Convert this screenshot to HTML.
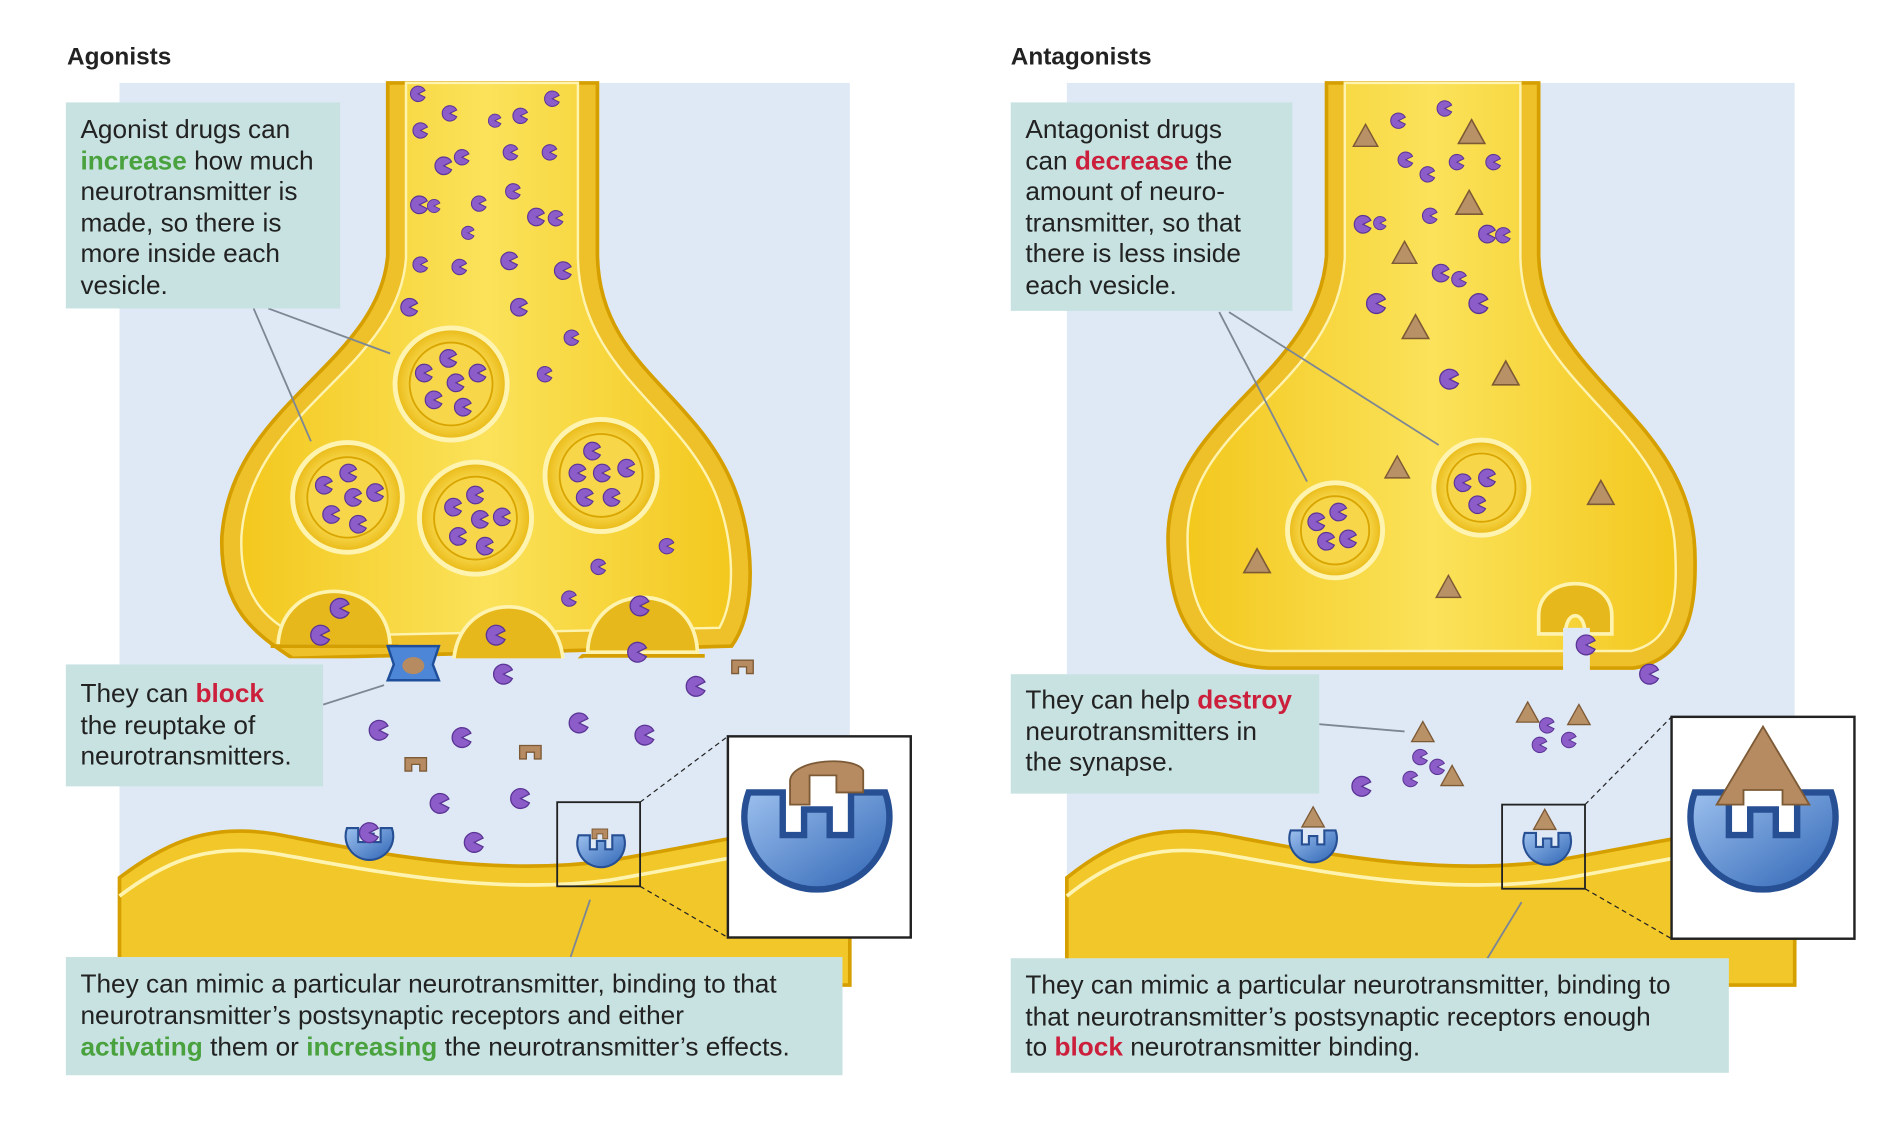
<!DOCTYPE html>
<html><head><meta charset="utf-8"><style>
html,body{margin:0;padding:0;background:#fff}
svg{display:block}
text{font-family:"Liberation Sans",Arial,sans-serif}
</style></head><body>
<svg width="1902" height="1135" viewBox="0 0 1560 931" preserveAspectRatio="none" xmlns="http://www.w3.org/2000/svg">
<defs>
<linearGradient id="y" x1="0" y1="0" x2="1" y2="0"><stop offset="0" stop-color="#f3c81e"/><stop offset="0.5" stop-color="#fbe25a"/><stop offset="1" stop-color="#f3c81e"/></linearGradient>
<radialGradient id="ves" cx="0.5" cy="0.5" r="0.5"><stop offset="0.7" stop-color="#f7d64a"/><stop offset="1" stop-color="#e9b915"/></radialGradient>
<linearGradient id="bl" x1="0" y1="0" x2="1" y2="1"><stop offset="0" stop-color="#9cc0ee"/><stop offset="1" stop-color="#2f65b5"/></linearGradient>
<symbol id="nt" viewBox="-10 -10 20 20"><path d="M0,0 L8,-4 A9,9 0 1 0 8,4 Z" fill="#8c5cc8" stroke="#5b3596" stroke-width="1.2"/></symbol>
<symbol id="tri" viewBox="-12 -12 24 24"><path d="M0,-10 L10,8 L-10,8 Z" fill="#b89166" stroke="#7d5a36" stroke-width="1.2"/></symbol>
<symbol id="ag" viewBox="-10 -10 20 20"><path d="M-8,-5 L8,-5 L8,5 L3,5 L3,0 L-3,0 L-3,5 L-8,5Z" fill="#b68b62" stroke="#7d5a36" stroke-width="1"/></symbol>
<symbol id="rec" viewBox="-20 -20 40 40"><path d="M-16,-12 A17,17 0 1 0 16,-12 L8,-12 L8,-2 L3,-2 L3,-8 L-3,-8 L-3,-2 L-8,-2 L-8,-12 Z" fill="url(#bl)" stroke="#264f94" stroke-width="1.5"/></symbol>
</defs>

<!-- ================= LEFT ================= -->
<text x="55" y="53" font-size="20" font-weight="bold" fill="#222">Agonists</text>
<rect x="98" y="68" width="599" height="740" fill="#dfe9f5"/>
<path d="M318,68 L318,210 C310,300 190,330 182,440 C180,500 210,520 240,540 L600,530 C622,500 618,440 602,400 C570,320 492,300 490,210 L490,68 Z" fill="#eec02a" stroke="#d69f00" stroke-width="3"/>
<path d="M333,68 L333,212 C326,305 205,335 198,440 C196,490 220,510 245,522 L590,515 C604,490 602,445 588,408 C560,335 476,305 474,212 L474,68 Z" fill="url(#y)" stroke="#fff3b0" stroke-width="2"/>
<g fill="#e7b81c" stroke="#fff3b0" stroke-width="3">
<path d="M228,530 C230,470 318,470 320,530 Z"/>
<path d="M372,545 C374,482 460,482 462,545 Z"/>
<path d="M482,535 C484,475 570,475 572,535 Z"/>
</g>
<path d="M222,530 L326,530 L366,548 L468,548 L478,538 L578,538" fill="none" stroke="#d69f00" stroke-width="3"/>
<rect x="210" y="540" width="400" height="14" fill="#dfe9f5"/>
<g fill="url(#ves)" stroke="#fff3b0" stroke-width="4">
<circle cx="370" cy="315" r="46"/><circle cx="285" cy="408" r="45"/><circle cx="390" cy="425" r="46"/><circle cx="493" cy="390" r="46"/>
</g>
<g fill="none" stroke="#d9a500" stroke-width="1.5">
<circle cx="370" cy="315" r="34"/><circle cx="285" cy="408" r="33"/><circle cx="390" cy="425" r="34"/><circle cx="493" cy="390" r="34"/>
</g>
<path d="M318,530 L360,530 L355,545 L360,558 L318,558 L323,545 Z" fill="#4d86d6" stroke="#1f4f9a" stroke-width="2"/>
<ellipse cx="339" cy="546" rx="9" ry="7" fill="#b68b62"/>
<path d="M98,720 C140,688 175,676 225,684 C300,698 400,720 500,706 C580,692 640,678 697,674 L697,808 L98,808 Z" fill="#f1c72a" stroke="#d69f00" stroke-width="3"/>
<path d="M98,735 C140,703 175,692 225,700 C300,713 400,735 500,722 C580,708 640,694 697,690" fill="none" stroke="#fff3b0" stroke-width="3"/>
<g>
<use href="#nt" x="336" y="70" width="14" height="14"/>
<use href="#nt" x="362" y="86" width="14" height="14"/>
<use href="#nt" x="420" y="88" width="14" height="14"/>
<use href="#nt" x="446" y="74" width="14" height="14"/>
<use href="#nt" x="400" y="92" width="12" height="14"/>
<use href="#nt" x="338" y="100" width="14" height="14"/>
<use href="#nt" x="356" y="128" width="16" height="16"/><use href="#nt" x="372" y="122" width="14" height="14"/>
<use href="#nt" x="412" y="118" width="14" height="14"/><use href="#nt" x="444" y="118" width="14" height="14"/>
<use href="#nt" x="336" y="160" width="16" height="16"/><use href="#nt" x="350" y="162" width="12" height="14"/>
<use href="#nt" x="386" y="160" width="14" height="14"/><use href="#nt" x="414" y="150" width="14" height="14"/>
<use href="#nt" x="432" y="170" width="16" height="16"/><use href="#nt" x="449" y="172" width="14" height="14"/>
<use href="#nt" x="378" y="184" width="12" height="14"/>
<use href="#nt" x="338" y="210" width="14" height="14"/><use href="#nt" x="370" y="212" width="14" height="14"/>
<use href="#nt" x="410" y="206" width="16" height="16"/><use href="#nt" x="454" y="214" width="16" height="16"/>
<use href="#nt" x="328" y="244" width="16" height="16"/><use href="#nt" x="418" y="244" width="16" height="16"/>
<use href="#nt" x="462" y="270" width="14" height="14"/><use href="#nt" x="440" y="300" width="14" height="14"/>
<use href="#nt" x="540" y="440" width="14" height="16"/><use href="#nt" x="484" y="458" width="14" height="14"/>
<use href="#nt" x="460" y="484" width="14" height="14"/>
<use href="#nt" x="340" y="298" width="16" height="16"/><use href="#nt" x="360" y="286" width="16" height="16"/><use href="#nt" x="366" y="306" width="16" height="16"/><use href="#nt" x="384" y="298" width="16" height="16"/><use href="#nt" x="348" y="320" width="16" height="16"/><use href="#nt" x="372" y="326" width="16" height="16"/>
<use href="#nt" x="258" y="390" width="16" height="16"/><use href="#nt" x="278" y="380" width="16" height="16"/><use href="#nt" x="282" y="400" width="16" height="16"/><use href="#nt" x="300" y="396" width="16" height="16"/><use href="#nt" x="264" y="414" width="16" height="16"/><use href="#nt" x="286" y="422" width="16" height="16"/>
<use href="#nt" x="364" y="408" width="16" height="16"/><use href="#nt" x="382" y="398" width="16" height="16"/><use href="#nt" x="386" y="418" width="16" height="16"/><use href="#nt" x="404" y="416" width="16" height="16"/><use href="#nt" x="368" y="432" width="16" height="16"/><use href="#nt" x="390" y="440" width="16" height="16"/>
<use href="#nt" x="478" y="362" width="16" height="16"/><use href="#nt" x="466" y="380" width="16" height="16"/><use href="#nt" x="486" y="380" width="16" height="16"/><use href="#nt" x="506" y="376" width="16" height="16"/><use href="#nt" x="472" y="400" width="16" height="16"/><use href="#nt" x="494" y="400" width="16" height="16"/>
<use href="#nt" x="270" y="490" width="18" height="18"/><use href="#nt" x="254" y="512" width="18" height="18"/>
<use href="#nt" x="398" y="512" width="18" height="18"/><use href="#nt" x="404" y="544" width="18" height="18"/>
<use href="#nt" x="516" y="488" width="18" height="18"/><use href="#nt" x="514" y="526" width="18" height="18"/>
<use href="#nt" x="562" y="554" width="18" height="18"/>
<use href="#nt" x="302" y="590" width="18" height="18"/><use href="#nt" x="370" y="596" width="18" height="18"/>
<use href="#nt" x="466" y="584" width="18" height="18"/><use href="#nt" x="520" y="594" width="18" height="18"/>
<use href="#nt" x="352" y="650" width="18" height="18"/><use href="#nt" x="418" y="646" width="18" height="18"/>
<use href="#nt" x="380" y="682" width="18" height="18"/>
<use href="#ag" x="598" y="536" width="22" height="22"/><use href="#ag" x="330" y="616" width="22" height="22"/><use href="#ag" x="424" y="606" width="22" height="22"/>
</g>
<use href="#rec" x="280" y="670" width="46" height="46"/>
<use href="#nt" x="294" y="674" width="18" height="18"/>
<use href="#rec" x="470" y="676" width="46" height="46"/>
<use href="#ag" x="482" y="676" width="20" height="16"/>
<rect x="457" y="658" width="68" height="69" fill="none" stroke="#222" stroke-width="1.5"/>
<line x1="525" y1="658" x2="597" y2="604" stroke="#222" stroke-dasharray="4,3"/>
<line x1="525" y1="727" x2="597" y2="769" stroke="#222" stroke-dasharray="4,3"/>
<rect x="597" y="604" width="150" height="165" fill="#fff" stroke="#222" stroke-width="2"/>
<use href="#rec" x="600" y="622" width="140" height="140"/>
<path d="M648,640 C650,622 702,620 708,632 L708,650 L686,650 L686,636 L664,636 L664,660 L648,660 Z" fill="#b68b62" stroke="#7d5a36" stroke-width="1.5"/>
<g stroke="#7d8794" stroke-width="1.5">
<line x1="208" y1="253" x2="255" y2="362"/><line x1="220" y1="253" x2="320" y2="290"/>
<line x1="265" y1="578" x2="315" y2="562"/><line x1="468" y1="785" x2="484" y2="738"/>
</g>
<rect x="54" y="84" width="225" height="169" fill="#c8e2e2"/>
<g font-size="21.5" fill="#222">
<text x="66" y="113">Agonist drugs can</text>
<text x="66" y="139"><tspan fill="#4aa23f" font-weight="bold">increase</tspan> how much</text>
<text x="66" y="164">neurotransmitter is</text>
<text x="66" y="190">made, so there is</text>
<text x="66" y="215">more inside each</text>
<text x="66" y="241">vesicle.</text>
</g>
<rect x="54" y="545" width="211" height="100" fill="#c8e2e2"/>
<g font-size="21.5" fill="#222">
<text x="66" y="576">They can <tspan fill="#cc1f3c" font-weight="bold">block</tspan></text>
<text x="66" y="602">the reuptake of</text>
<text x="66" y="627">neurotransmitters.</text>
</g>
<rect x="54" y="785" width="637" height="97" fill="#c8e2e2"/>
<g font-size="21.5" fill="#222">
<text x="66" y="814">They can mimic a particular neurotransmitter, binding to that</text>
<text x="66" y="840">neurotransmitter’s postsynaptic receptors and either</text>
<text x="66" y="866"><tspan fill="#4aa23f" font-weight="bold">activating</tspan> them or <tspan fill="#4aa23f" font-weight="bold">increasing</tspan> the neurotransmitter’s effects.</text>
</g>

<!-- ================= RIGHT ================= -->
<text x="829" y="53" font-size="20" font-weight="bold" fill="#222">Antagonists</text>
<rect x="875" y="68" width="597" height="740" fill="#dfe9f5"/>
<path d="M1088,68 L1088,210 C1080,310 960,340 958,440 C958,520 990,545 1040,548 L1340,548 C1385,540 1392,500 1390,450 C1385,340 1265,310 1262,210 L1262,68 Z" fill="#eec02a" stroke="#d69f00" stroke-width="3"/>
<path d="M1103,68 L1103,212 C1096,318 975,345 974,440 C974,510 1000,532 1042,534 L1338,534 C1372,526 1376,495 1374,452 C1370,345 1250,318 1247,212 L1247,68 Z" fill="url(#y)" stroke="#fff3b0" stroke-width="2"/>
<path d="M1262,505 C1262,470 1322,470 1322,505 L1322,520 L1300,520 C1300,500 1284,500 1284,520 L1262,520 Z" fill="#e7b81c" stroke="#fff3b0" stroke-width="3"/>
<rect x="1282" y="515" width="22" height="40" fill="#dfe9f5"/>
<g fill="url(#ves)" stroke="#fff3b0" stroke-width="4"><circle cx="1095" cy="435" r="39"/><circle cx="1215" cy="400" r="39"/></g>
<g fill="none" stroke="#d9a500" stroke-width="1.5"><circle cx="1095" cy="435" r="28"/><circle cx="1215" cy="400" r="28"/></g>
<path d="M875,720 C915,688 950,676 1000,684 C1075,698 1175,720 1275,706 C1355,692 1415,678 1472,674 L1472,808 L875,808 Z" fill="#f1c72a" stroke="#d69f00" stroke-width="3"/>
<path d="M875,735 C915,703 950,692 1000,700 C1075,713 1175,735 1275,722 C1355,708 1415,694 1472,690" fill="none" stroke="#fff3b0" stroke-width="3"/>
<g>
<use href="#tri" x="1108" y="100" width="24" height="24"/><use href="#tri" x="1194" y="96" width="26" height="26"/>
<use href="#tri" x="1192" y="154" width="26" height="26"/><use href="#tri" x="1140" y="196" width="24" height="24"/>
<use href="#tri" x="1148" y="256" width="26" height="26"/><use href="#tri" x="1222" y="294" width="26" height="26"/>
<use href="#tri" x="1134" y="372" width="24" height="24"/><use href="#tri" x="1300" y="392" width="26" height="26"/>
<use href="#tri" x="1018" y="448" width="26" height="26"/><use href="#tri" x="1176" y="470" width="24" height="24"/>
<use href="#nt" x="1140" y="92" width="14" height="14"/><use href="#nt" x="1178" y="82" width="14" height="14"/>
<use href="#nt" x="1146" y="124" width="14" height="14"/><use href="#nt" x="1164" y="136" width="14" height="14"/><use href="#nt" x="1188" y="126" width="14" height="14"/><use href="#nt" x="1218" y="126" width="14" height="14"/>
<use href="#nt" x="1110" y="176" width="16" height="16"/><use href="#nt" x="1126" y="176" width="12" height="14"/><use href="#nt" x="1166" y="170" width="14" height="14"/>
<use href="#nt" x="1212" y="184" width="16" height="16"/><use href="#nt" x="1226" y="186" width="14" height="14"/>
<use href="#nt" x="1174" y="216" width="16" height="16"/><use href="#nt" x="1190" y="222" width="14" height="14"/>
<use href="#nt" x="1120" y="240" width="18" height="18"/><use href="#nt" x="1204" y="240" width="18" height="18"/>
<use href="#nt" x="1180" y="302" width="18" height="18"/>
<use href="#nt" x="1072" y="420" width="16" height="16"/><use href="#nt" x="1090" y="412" width="16" height="16"/><use href="#nt" x="1080" y="436" width="16" height="16"/><use href="#nt" x="1098" y="434" width="16" height="16"/>
<use href="#nt" x="1192" y="388" width="16" height="16"/><use href="#nt" x="1212" y="384" width="16" height="16"/><use href="#nt" x="1204" y="406" width="16" height="16"/>
<use href="#nt" x="1292" y="520" width="18" height="18"/><use href="#nt" x="1344" y="544" width="18" height="18"/>
<use href="#nt" x="1108" y="636" width="18" height="18"/>
<use href="#nt" x="1158" y="614" width="14" height="14"/><use href="#nt" x="1172" y="622" width="14" height="14"/><use href="#nt" x="1150" y="632" width="14" height="14"/>
<use href="#nt" x="1262" y="588" width="14" height="14"/><use href="#nt" x="1280" y="600" width="14" height="14"/><use href="#nt" x="1256" y="604" width="14" height="14"/>
<use href="#tri" x="1156" y="590" width="22" height="22"/><use href="#tri" x="1180" y="626" width="22" height="22"/>
<use href="#tri" x="1242" y="574" width="22" height="22"/><use href="#tri" x="1284" y="576" width="22" height="22"/>
</g>
<use href="#rec" x="1054" y="672" width="46" height="46"/><use href="#tri" x="1066" y="660" width="22" height="22"/>
<use href="#rec" x="1246" y="674" width="46" height="46"/><use href="#tri" x="1256" y="662" width="22" height="22"/>
<rect x="1232" y="660" width="68" height="69" fill="none" stroke="#222" stroke-width="1.5"/>
<line x1="1300" y1="660" x2="1371" y2="588" stroke="#222" stroke-dasharray="4,3"/>
<line x1="1300" y1="729" x2="1371" y2="770" stroke="#222" stroke-dasharray="4,3"/>
<rect x="1371" y="588" width="150" height="182" fill="#fff" stroke="#222" stroke-width="2"/>
<use href="#rec" x="1376" y="622" width="140" height="140"/>
<path d="M1446,596 L1484,660 L1462,660 L1462,648 L1430,648 L1430,660 L1408,660 Z" fill="#b68b62" stroke="#7d5a36" stroke-width="1.5"/>
<g stroke="#7d8794" stroke-width="1.5">
<line x1="1000" y1="256" x2="1072" y2="395"/><line x1="1008" y1="256" x2="1180" y2="365"/>
<line x1="1082" y1="594" x2="1152" y2="600"/><line x1="1220" y1="786" x2="1248" y2="740"/>
</g>
<rect x="829" y="84" width="231" height="171" fill="#c8e2e2"/>
<g font-size="21.5" fill="#222">
<text x="841" y="113">Antagonist drugs</text>
<text x="841" y="139">can <tspan fill="#cc1f3c" font-weight="bold">decrease</tspan> the</text>
<text x="841" y="164">amount of neuro-</text>
<text x="841" y="190">transmitter, so that</text>
<text x="841" y="215">there is less inside</text>
<text x="841" y="241">each vesicle.</text>
</g>
<rect x="829" y="553" width="253" height="98" fill="#c8e2e2"/>
<g font-size="21.5" fill="#222">
<text x="841" y="581">They can help <tspan fill="#cc1f3c" font-weight="bold">destroy</tspan></text>
<text x="841" y="607">neurotransmitters in</text>
<text x="841" y="632">the synapse.</text>
</g>
<rect x="829" y="786" width="589" height="94" fill="#c8e2e2"/>
<g font-size="21.5" fill="#222">
<text x="841" y="815">They can mimic a particular neurotransmitter, binding to</text>
<text x="841" y="841">that neurotransmitter’s postsynaptic receptors enough</text>
<text x="841" y="866">to <tspan fill="#cc1f3c" font-weight="bold">block</tspan> neurotransmitter binding.</text>
</g>
</svg>
</body></html>
